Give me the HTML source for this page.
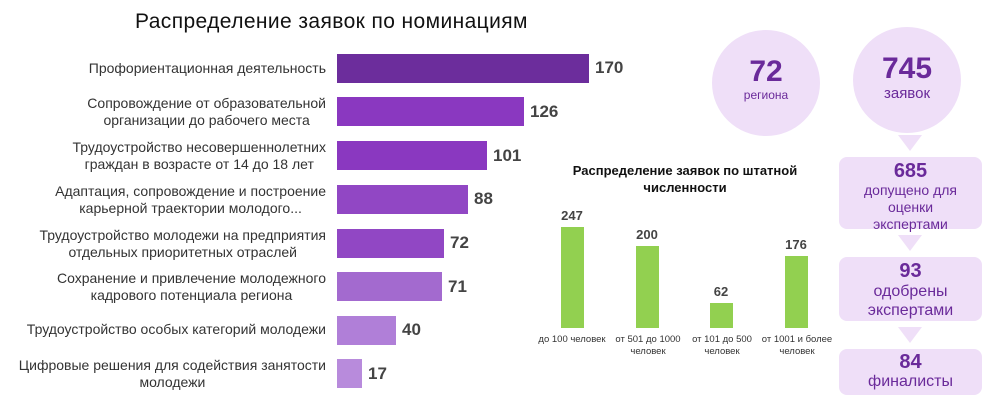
<!DOCTYPE html><html><head><meta charset="utf-8"><style>
body{margin:0;width:1000px;height:412px;background:#fff;font-family:"Liberation Sans","DejaVu Sans",sans-serif;position:relative;overflow:hidden}
.a{position:absolute}
.lb{position:absolute;right:674px;white-space:nowrap;text-align:center;font-size:14px;color:#333;line-height:17px}
.bar{position:absolute;left:337px;height:29px}
.v{position:absolute;font-weight:bold;font-size:17px;color:#444}
.g{position:absolute;background:#92d050;width:23px;bottom:84px}
.gv{position:absolute;font-weight:bold;font-size:13px;color:#444;width:50px;text-align:center}
.gl{position:absolute;font-size:9.5px;color:#333;text-align:center;width:90px;line-height:12px}
.c{position:absolute;border-radius:50%;background:#efdff8;width:108px;height:106px;text-align:center;color:#6a2a9a}
.bx{position:absolute;left:839px;width:143px;background:#efdff8;border-radius:8px;text-align:center;color:#6a2a9a;font-size:14px;line-height:17px}
.bx b{display:block;font-size:20px;line-height:22px;color:#6a2a9a}
.tri{position:absolute;left:898px;width:0;height:0;border-left:12px solid transparent;border-right:12px solid transparent;border-top:16px solid #efdff8}
</style></head><body>
<div class="a" style="left:135px;top:10px;font-size:21px;letter-spacing:0.4px;color:#111">Распределение заявок по номинациям</div>
<div class="lb" style="top:60px">Профориентационная деятельность</div>
<div class="lb" style="top:95px">Сопровождение от образовательной<br>организации до рабочего места</div>
<div class="lb" style="top:139px">Трудоустройство несовершеннолетних<br>граждан в возрасте от 14 до 18 лет</div>
<div class="lb" style="top:183px">Адаптация, сопровождение и построение<br>карьерной траектории молодого...</div>
<div class="lb" style="top:227px">Трудоустройство молодежи на предприятия<br>отдельных приоритетных отраслей</div>
<div class="lb" style="top:270px">Сохранение и привлечение молодежного<br>кадрового потенциала региона</div>
<div class="lb" style="top:321px">Трудоустройство особых категорий молодежи</div>
<div class="lb" style="top:357px">Цифровые решения для содействия занятости<br>молодежи</div>
<div class="bar" style="top:54px;width:252px;background:#6c2d9c"></div><div class="v" style="left:595px;top:58px">170</div>
<div class="bar" style="top:97px;width:187px;background:#8a38c0"></div><div class="v" style="left:530px;top:102px">126</div>
<div class="bar" style="top:141px;width:150px;background:#8a38c0"></div><div class="v" style="left:493px;top:146px">101</div>
<div class="bar" style="top:185px;width:131px;background:#9147c4"></div><div class="v" style="left:474px;top:189px">88</div>
<div class="bar" style="top:229px;width:107px;background:#9147c4"></div><div class="v" style="left:450px;top:233px">72</div>
<div class="bar" style="top:272px;width:105px;background:#a36acf"></div><div class="v" style="left:448px;top:277px">71</div>
<div class="bar" style="top:316px;width:59px;background:#b07fd8"></div><div class="v" style="left:402px;top:320px">40</div>
<div class="bar" style="top:359px;width:25px;background:#b88bdc"></div><div class="v" style="left:368px;top:364px">17</div>
<div class="a" style="left:560px;top:162px;width:250px;text-align:center;font-weight:bold;font-size:13px;color:#111;line-height:17px">Распределение заявок по штатной<br>численности</div>
<div class="g" style="left:561px;top:227px"></div><div class="gv" style="left:547px;top:208px">247</div>
<div class="g" style="left:636px;top:246px"></div><div class="gv" style="left:622px;top:227px">200</div>
<div class="g" style="left:710px;top:303px"></div><div class="gv" style="left:696px;top:284px">62</div>
<div class="g" style="left:785px;top:256px"></div><div class="gv" style="left:771px;top:237px">176</div>
<div class="gl" style="left:527px;top:334px">до 100 человек</div>
<div class="gl" style="left:603px;top:334px">от 501 до 1000<br>человек</div>
<div class="gl" style="left:677px;top:334px">от 101 до 500<br>человек</div>
<div class="gl" style="left:752px;top:334px">от 1001 и более<br>человек</div>
<div class="c" style="left:712px;top:30px"><div style="font-weight:bold;font-size:30px;margin-top:26px;line-height:32px">72</div><div style="font-size:12px">региона</div></div>
<div class="c" style="left:853px;top:27px"><div style="font-weight:bold;font-size:30px;margin-top:26px;line-height:32px">745</div><div style="font-size:15px">заявок</div></div>
<div class="tri" style="top:135px"></div>
<div class="bx" style="top:157px;height:72px"><b style="margin-top:3px">685</b>допущено для<br>оценки<br>экспертами</div>
<div class="tri" style="top:235px"></div>
<div class="bx" style="top:257px;height:64px"><b style="margin-top:3px">93</b><span style="font-size:16px;line-height:19px">одобрены<br>экспертами</span></div>
<div class="tri" style="top:327px"></div>
<div class="bx" style="top:349px;height:46px"><b style="margin-top:2px">84</b><span style="font-size:16px">финалисты</span></div>
</body></html>
